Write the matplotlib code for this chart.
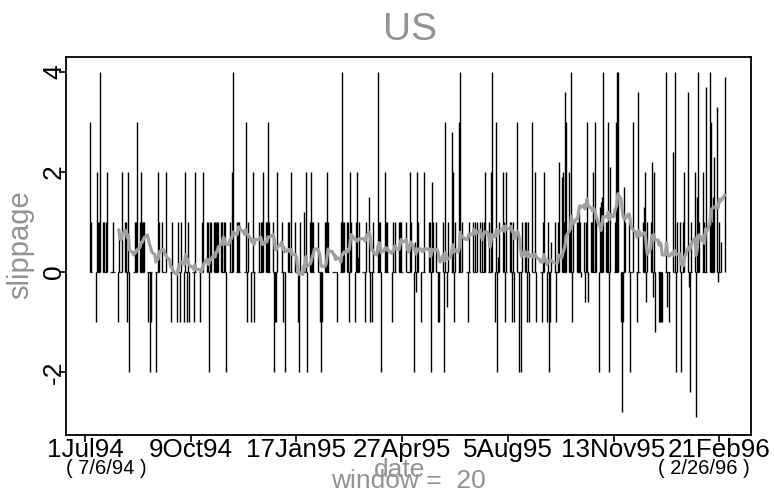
import numpy as np
import pandas as pd
import matplotlib
matplotlib.use("Agg")
import matplotlib.pyplot as plt

# daily slippage, one row per trading week (Mon..Fri)
slippage = [
    3, 1, 0,
    -1, 2, 1, 1, 4,
    1, 1, 0, 1, 2,
    0, 0, 1, 0, 0,
    -1, 0.8, 0, 0, 2,
    1, 1, -1, 2, -2,
    0, 0, 1, 1, 3,
    1, 2, 1, 1, 1,
    0, -1, -2, -1, 0,
    0, -2, 0, 2, 1,
    1, 0, 0, 0, 2,
    0, -1, 1, 0, 0,
    -1, 1, 0, -1, 1,
    -1, 2, -1, 1, -1,
    0, 0, -1, 2, 0,
    0, -1, 0, 1, 2,
    1, 1, -2, 1, 1,
    1, 1, 1, 1, 1,
    1, 1, 1, 1, -2,
    0, 1, 0, 2, 4,
    0, 1, 1, 1, 0,
    0, 0, 3, -1, 1,
    -1, 0, 2, -1, 0,
    0, 1, 1, 1, 2,
    1, 1, 3, 1, 0,
    1, -2, -1, -1, 2,
    0, 1, -1, 0, -2,
    1, 1, 0, 2, 0,
    1, 0, -1, -2, 1,
    0, 1.2, 0, 2, -2,
    1, 2, 1, 1, 0,
    1, 0, -1, -2, -1,
    1, 1, 2, 1, 0,
    0, 0, 0, 0, -1,
    0, 1, 4, 1, 1,
    1, 1, -1, 2, 1,
    -1, 1, 2, 0.3, 1,
    0, 0, 0, -1, 1,
    1.5, -1, -1, 1, 0,
    0, 4, 1, 1, -2,
    0, 2, 1, 1, 0,
    -1, 1, 0, 1, 0,
    1, 1, 1, 0, 0,
    1, 0, 0, 2, 1,
    -2, 0.6, -0.4, 2, 1,
    -1, 0, 0, 2, 0,
    1, 1, -2, 1.8, 1,
    1, 0, -1, -1, 0,
    1, -2, 3, -0.7, 1,
    0, 2.8, 2, -1, 1,
    0, 3, 4, 0, 1,
    0, 0, -1, 1, 0,
    1, 0, 1, 0, 1,
    1, 0, 1, 1, 2,
    0, 1, 0, 2, 4,
    -1, 3, -2, 0.3, 1,
    2, 1, -1, 2, 0,
    1, 1, -1, 1, -1,
    3, 0, -2, -2, 1,
    1, 1, -1, 1, -1,
    3, 0, 0, 2, -1,
    0, 0, -1, 1, 2,
    -1, 1, -2, -1, 0.6,
    0, 1, -1, 1, 2.2,
    1.9, 2, 1, 3.6, 3,
    2, 1, 4, -1, 1,
    1, 1, 1.2, 1, -0.1,
    1, -0.6, 1, 3, -0.6,
    1, 1, 2, 3, 1,
    -2, 1.3, 1.4, 1.5, 4,
    1, 1, 3, -2, 2.1,
    0, 1, 3, 4, 4,
    -1, -2.8, -1, 1.7, 1,
    0, 1, -2, 0, 3,
    0, -1, 3.6, 0, 0,
    1, 1.3, 2, -0.6, 1,
    1, 2.2, -0.5, 2, -1.2,
    0, -1, -1, -1, -1,
    0, 4, -0.7, -1, 0,
    2.4, 0, 4, -2, 1,
    1, -2, 0, 1, 2,
    3.6, -0.3, -2.4, 1, 0,
    2, -2.9, 1.5, 4, 1,
    0, 2, 1, 3.7, 0,
    4, 3, 1, 1.5, 2.3,
    3.3, -0.2, 1, 0, 0.6,
    3.9,
]
start_date = "1994-07-06"
end_date = "1996-02-26"
window = 20

tick_dates = ["1994-07-01", "1994-10-09", "1995-01-17", "1995-04-27",
              "1995-08-05", "1995-11-13", "1996-02-21"]
tick_labels = ["1Jul94", "9Oct94", "17Jan95", "27Apr95", "5Aug95", "13Nov95", "21Feb96"]
y_ticks = [-2, 0, 2, 4]

dates = pd.bdate_range(start_date, end_date)
n = min(len(dates), len(slippage))
dates = dates[:n]
vals = np.array(slippage[:n], dtype=float)
ma = pd.Series(vals).rolling(window).mean().values

FONT = ["Liberation Sans", "DejaVu Sans"]
GRAY = "#939393"

fig = plt.figure(figsize=(7.74, 4.93), dpi=100)
ax = fig.add_axes([66 / 774, 58 / 493, 685 / 774, 378 / 493])

d = dates.values
ax.vlines(d, 0, vals, color="black", lw=1.0)
# zero connecting segments between consecutive calendar days
gaps = np.diff(d).astype("timedelta64[D]").astype(int)
idx = np.where(gaps == 1)[0]
ax.hlines(np.zeros(len(idx)), d[idx], d[idx + 1], color="black", lw=0.9)
ax.plot(d, ma, color="#a0a0a0", lw=2.3, solid_joinstyle="round")

ax.set_xlim(np.datetime64("1994-06-13"), np.datetime64("1996-03-22"))
ax.set_ylim(-3.26, 4.3)

tk = [np.datetime64(t) for t in tick_dates]
ax.set_xticks(tk)
ax.set_xticklabels(tick_labels, fontsize=18.7, family=FONT)
ax.set_yticks(y_ticks)
ax.set_yticklabels([str(v) for v in y_ticks], fontsize=19, family=FONT,
                   rotation=90, va="center")
ax.tick_params(axis="both", direction="out", length=5, width=1.2, color="black")
ax.tick_params(axis="x", pad=-3)
ax.tick_params(axis="y", pad=-5)
for s in ax.spines.values():
    s.set_linewidth(1.3)
    s.set_color("black")

fig.text(410 / 774, 1 - 30 / 493, "US", ha="center", va="center",
         fontsize=28, color=GRAY, family=FONT)
fig.text(20 / 774, 1 - 245 / 493, "slippage", ha="center", va="center",
         rotation=90, fontsize=21, color=GRAY, family=FONT)
fig.text(400 / 774, 1 - 470 / 493, "date", ha="center", va="center",
         fontsize=19, color=GRAY, family=FONT)
fig.text(408 / 774, 1 - 481 / 493, "window =  20", ha="center", va="center",
         fontsize=19, color=GRAY, family=FONT)
fig.text(106 / 774, 1 - 469 / 493, "( 7/6/94 )", ha="center", va="center",
         fontsize=14.5, color="black", family=FONT)
fig.text(704 / 774, 1 - 469 / 493, "( 2/26/96 )", ha="center", va="center",
         fontsize=14.5, color="black", family=FONT)

fig.savefig("out.png", dpi=100)
